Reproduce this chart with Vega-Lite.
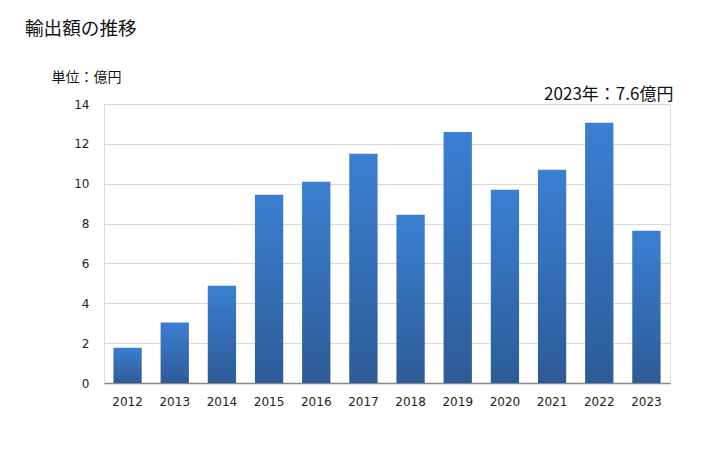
{
  "$schema": "https://vega.github.io/schema/vega-lite/v6.json",
  "autosize": "none",
  "width": 566,
  "height": 279,
  "padding": {"left": 104, "top": 104, "right": 58, "bottom": 67},
  "background": "white",
  "title": {
    "text": "輸出額の推移",
    "anchor": "start",
    "frame": "group",
    "dx": -79,
    "fontSize": 18.6,
    "font": "Noto Sans CJK JP",
    "fontWeight": "normal",
    "color": "#111111",
    "offset": 31
  },
  "data": {
    "values": [
      {"year": "2012", "value": 1.77},
      {"year": "2013", "value": 3.03},
      {"year": "2014", "value": 4.88},
      {"year": "2015", "value": 9.45},
      {"year": "2016", "value": 10.1},
      {"year": "2017", "value": 11.5},
      {"year": "2018", "value": 8.44},
      {"year": "2019", "value": 12.6},
      {"year": "2020", "value": 9.7},
      {"year": "2021", "value": 10.7},
      {"year": "2022", "value": 13.06},
      {"year": "2023", "value": 7.64}
    ]
  },
  "encoding": {
    "x": {
      "field": "year",
      "type": "nominal",
      "scale": {"paddingInner": 0.4, "paddingOuter": 0.2},
      "axis": {
        "title": null,
        "labelAngle": 0,
        "labelFont": "DejaVu Sans",
        "labelFontSize": 12,
        "labelColor": "#222222",
        "labelPadding": 13,
        "ticks": false,
        "domainColor": "#888888",
        "domainWidth": 1.5,
        "grid": false
      }
    },
    "y": {
      "field": "value",
      "type": "quantitative",
      "scale": {"domain": [0, 14], "nice": false},
      "axis": {
        "values": [0, 2, 4, 6, 8, 10, 12, 14],
        "labelOverlap": false,
        "title": "単位：億円",
        "titleAngle": 0,
        "titleAlign": "left",
        "titleBaseline": "middle",
        "titleX": -53,
        "titleY": -27,
        "titleFont": "Noto Sans CJK JP",
        "titleFontSize": 14,
        "titleFontWeight": "normal",
        "titleColor": "#111111",
        "labelFont": "DejaVu Sans",
        "labelFontSize": 12,
        "labelColor": "#222222",
        "labelPadding": 15,
        "ticks": false,
        "domain": false,
        "gridColor": "#d9d9d9",
        "gridWidth": 1
      }
    }
  },
  "layer": [
    {
      "mark": {
        "type": "bar",
        "color": {
          "gradient": "linear",
          "x1": 0, "y1": 0, "x2": 0, "y2": 1,
          "stops": [
            {"offset": 0, "color": "#3b7fd2"},
            {"offset": 1, "color": "#2d5b97"}
          ]
        }
      }
    },
    {
      "data": {"values": [{"year": "2023", "value": 14, "label": "2023年：7.6億円"}]},
      "mark": {
        "type": "text",
        "align": "right",
        "baseline": "bottom",
        "dx": 27,
        "dy": 0,
        "font": "Noto Sans CJK JP",
        "fontSize": 17,
        "color": "#111111"
      },
      "encoding": {
        "text": {"field": "label"}
      }
    }
  ]
}
